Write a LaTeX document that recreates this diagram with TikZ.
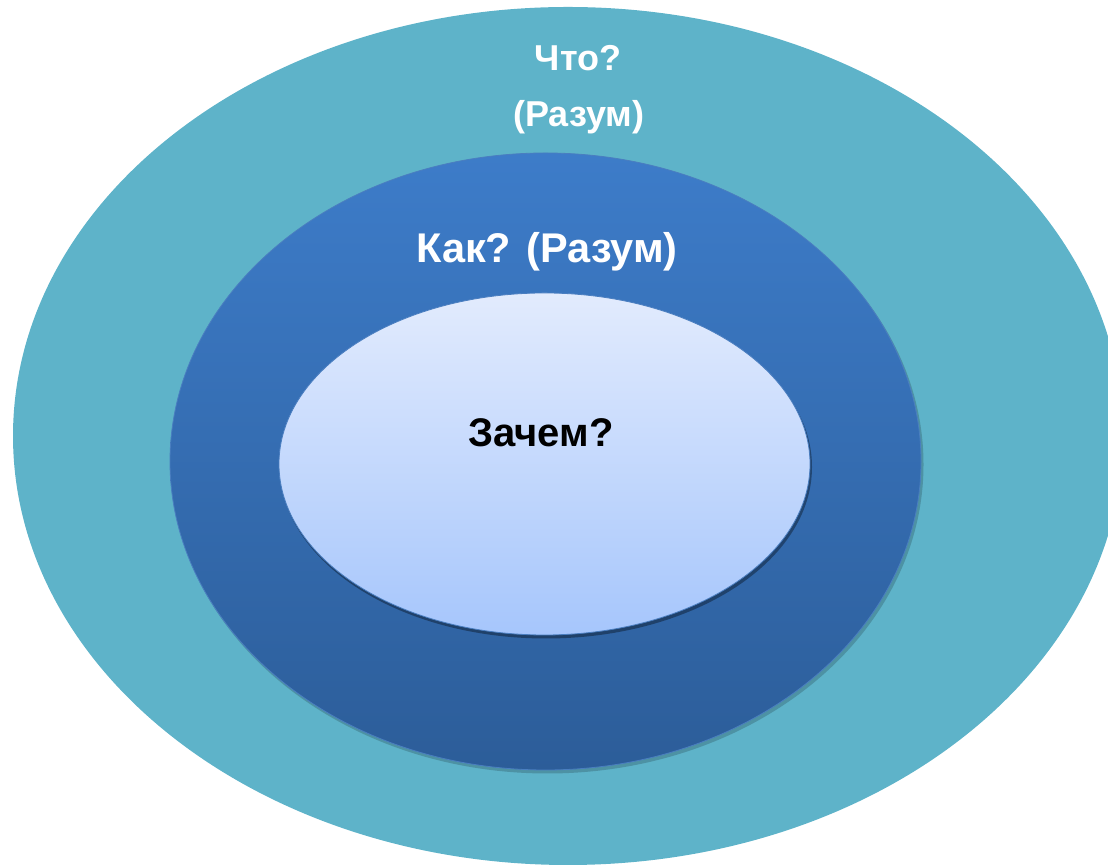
\documentclass[tikz,border=0pt]{standalone}
\usepackage{fontspec}
\setmainfont{Liberation Sans}
\definecolor{outerC}{HTML}{5EB3C9}
\definecolor{midTop}{HTML}{3D7CC9}
\definecolor{midBot}{HTML}{2C5D99}
\definecolor{inTop}{HTML}{E2EBFD}
\definecolor{inBot}{HTML}{A6C6FC}
\definecolor{rimC}{HTML}{4A7EC0}
\begin{document}
\begin{tikzpicture}[x=1pt,y=1pt,
  lbl/.style={font=\bfseries, anchor=base, inner sep=0pt},
  shadowfill/.style={fill=black, opacity=0.18}]
\useasboundingbox (0,0) rectangle (1108,866);
\begin{scope}
\clip (0,0) rectangle (1108,866);
% outer ellipse
\fill[outerC] (568,430) ellipse [x radius=555, y radius=429];
% middle ellipse shadow
\fill[shadowfill] (547.5,401.5) ellipse [x radius=376, y radius=309];
% middle ellipse
\shade[top color=midTop, bottom color=midBot, draw=rimC, line width=0.8pt]
  (545.5,404.5) ellipse [x radius=375.5, y radius=308.5];
% inner ellipse shadow
\fill[shadowfill, opacity=0.35] (546,399) ellipse [x radius=266, y radius=171.5];
% inner ellipse
\shade[top color=inTop, bottom color=inBot, draw=rimC, line width=0.8pt]
  (544.5,402) ellipse [x radius=265.5, y radius=171];
\end{scope}
\node[lbl, text=white, font=\bfseries\fontsize{36}{43}\selectfont] (what) at (578,795) {Что?};
\node[lbl, text=white, font=\bfseries\fontsize{36}{43}\selectfont] (whatmind) at (579,739) {(Разум)};
\node[lbl, text=white, font=\bfseries\fontsize{41.5}{50}\selectfont] (how) at (547,603) {Как? (Разум)};
\node[lbl, text=black, font=\bfseries\fontsize{40}{48}\selectfont] (why) at (541,419) {Зачем?};
\end{tikzpicture}
\end{document}
